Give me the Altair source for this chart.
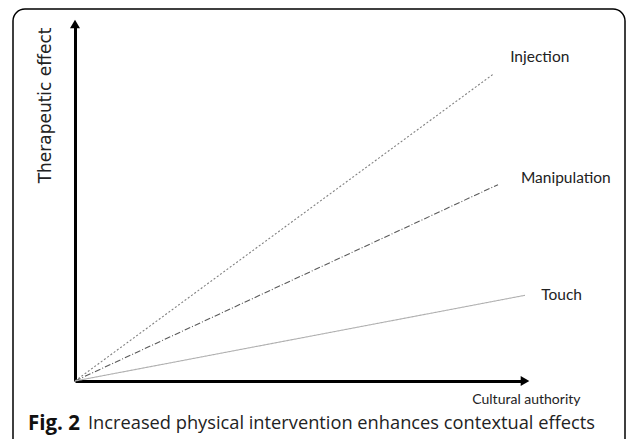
import altair as alt
import pandas as pd

# ---- data ----
series = ["Injection", "Manipulation", "Touch"]
end_x = [93, 94, 100]          # cultural authority at line end
end_y = [86, 55, 24]           # therapeutic effect at line end
label_x = [96.7, 99.1, 103.6]
label_y = [90.8, 56.9, 24.1]
colors = ["#808080", "#5a5a5a", "#b0b0b0"]
dashes = [[2, 2], [6, 2, 1, 2], [1, 0]]
x_title = "Cultural authority"
y_title = "Therapeutic effect"
caption_bold = "Fig. 2"
caption_text = "Increased physical intervention enhances contextual effects"

rows = []
for s, ex, ey in zip(series, end_x, end_y):
    rows.append({"series": s, "x": 0, "y": 0, "order": 0})
    rows.append({"series": s, "x": ex, "y": ey, "order": 1})
lines_df = pd.DataFrame(rows)
labels_df = pd.DataFrame({"series": series, "x": label_x, "y": label_y})
arrow_df = pd.DataFrame({"x": [0, 100], "y": [100, 0], "shape": ["triangle-up", "triangle-right"]})
one = pd.DataFrame({"a": [0]})

W, H = 450, 357
FONT = "Lato"

xs = alt.Scale(domain=[0, 100], nice=False, zero=False)
ys = alt.Scale(domain=[0, 100], nice=False, zero=False)

x_axis = alt.Axis(title=x_title, ticks=False, labels=False, grid=False,
                  domainColor="black", domainWidth=3,
                  titleX=505, titleY=18, titleAlign="right", titleBaseline="middle",
                  titleFont=FONT, titleFontSize=14, titleFontWeight="normal", titleColor="#222")
y_axis = alt.Axis(title=y_title, ticks=False, labels=False, grid=False,
                  domainColor="black", domainWidth=3,
                  titleX=-30, titleY=3, titleAngle=-90, titleAlign="right", titleBaseline="middle",
                  titleFont="DejaVu Sans", titleFontSize=17, titleFontWeight="normal", titleColor="#222")

border = alt.Chart(one).mark_rect(filled=False, stroke="black", strokeWidth=1.5,
                                  cornerRadius=12).encode(
    x=alt.value(-62), x2=alt.value(550), y=alt.value(-15), y2=alt.value(440))

lines = alt.Chart(lines_df).mark_line(strokeWidth=1.1).encode(
    x=alt.X("x:Q", scale=xs, axis=x_axis),
    y=alt.Y("y:Q", scale=ys, axis=y_axis),
    detail="series:N",
    order="order:Q",
    color=alt.Color("series:N", scale=alt.Scale(domain=series, range=colors), legend=None),
    strokeDash=alt.StrokeDash("series:N", scale=alt.Scale(domain=series, range=dashes), legend=None),
)

labels = alt.Chart(labels_df).mark_text(align="left", baseline="middle",
                                        font=FONT, fontSize=15.5, color="#222").encode(
    x=alt.X("x:Q", scale=xs), y=alt.Y("y:Q", scale=ys), text="series:N")

arrows = alt.Chart(arrow_df).mark_point(filled=True, color="black", opacity=1, size=100).encode(
    x=alt.X("x:Q", scale=xs), y=alt.Y("y:Q", scale=ys),
    shape=alt.Shape("shape:N", scale=None))

cap1 = alt.Chart(one).mark_text(align="left", baseline="middle", font="Open Sans",
                                fontSize=20.5, fontWeight="bold", color="#111").encode(
    x=alt.value(-47), y=alt.value(400), text=alt.value(caption_bold))
cap2 = alt.Chart(one).mark_text(align="left", baseline="middle", font="Open Sans",
                                fontSize=18.25, fontWeight="normal", color="#222").encode(
    x=alt.value(13), y=alt.value(400), text=alt.value(caption_text))

chart = alt.layer(border, lines, arrows, labels, cap1, cap2).properties(
    width=W, height=H,
    background="white",
    autosize=alt.AutoSizeParams(type="none"),
    padding={"left": 67, "top": 16, "right": 618 - 67 - W, "bottom": 431 - 16 - H},
).configure_view(stroke="transparent", strokeWidth=0)

chart.save("out.html", embed_options={"renderer": "svg", "actions": False})
